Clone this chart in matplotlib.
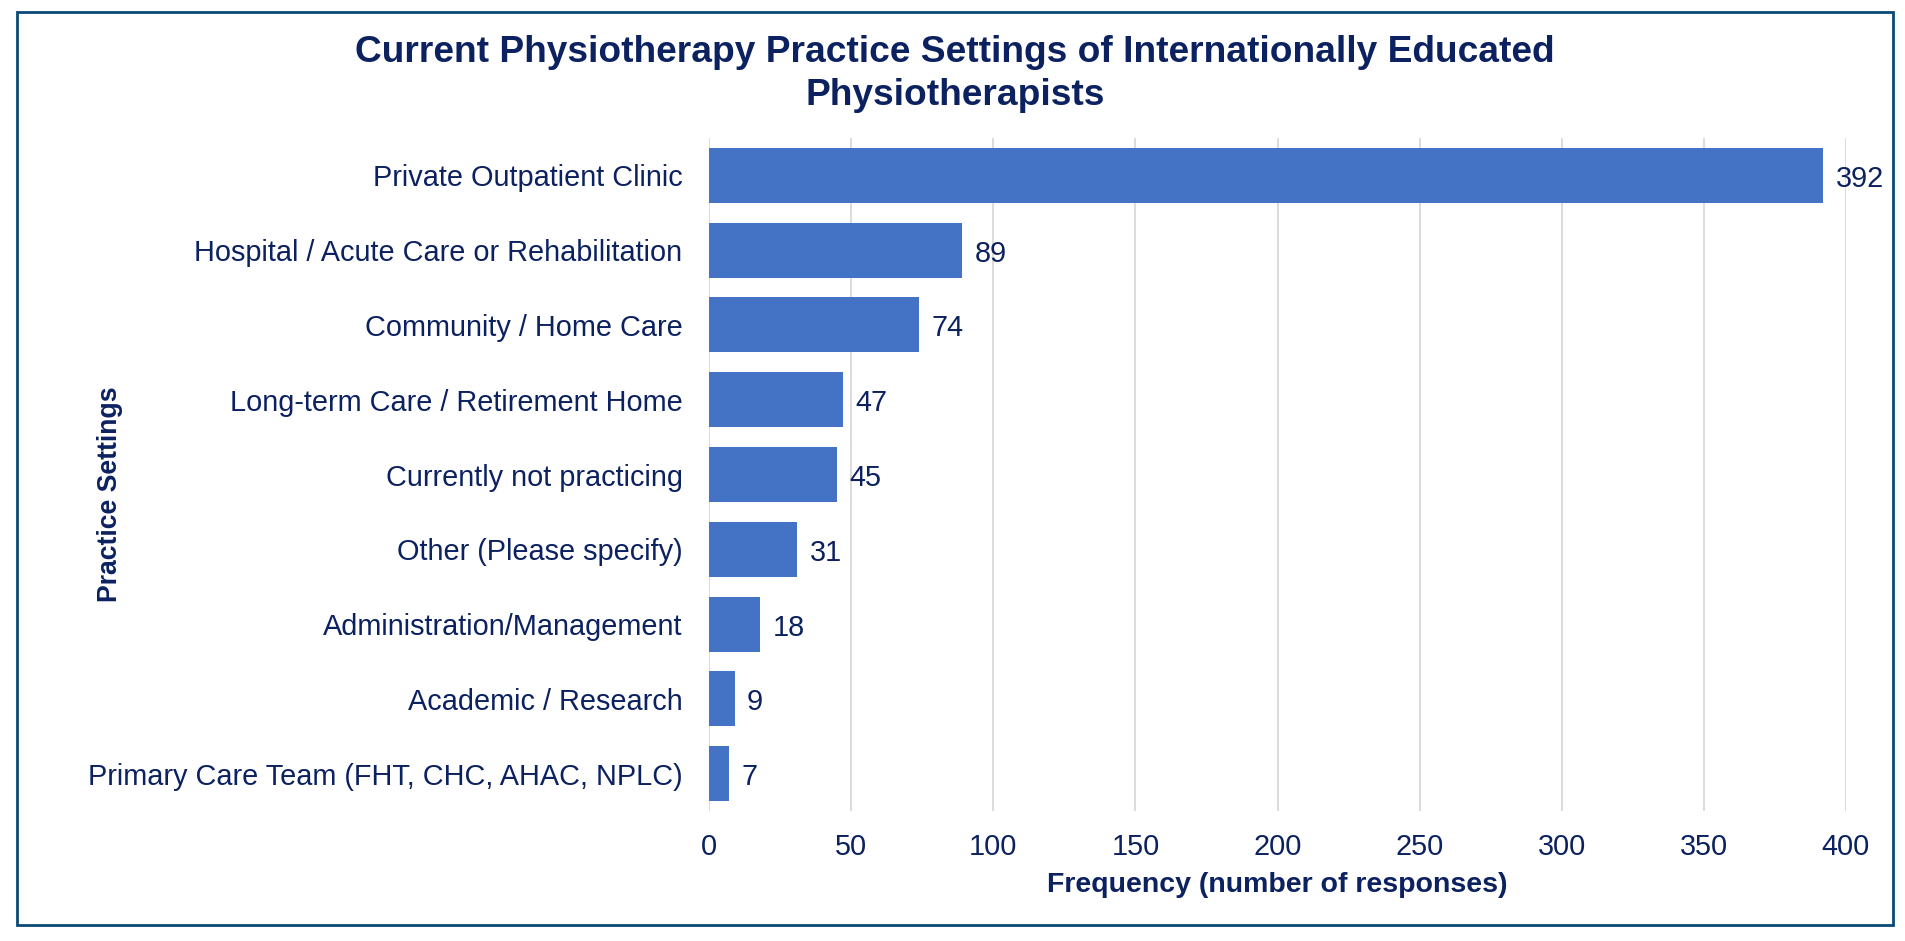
import matplotlib.pyplot as plt
from matplotlib.patches import Rectangle

# --- data ---
settings = [
    "Private Outpatient Clinic",
    "Hospital / Acute Care or Rehabilitation",
    "Community / Home Care",
    "Long-term Care / Retirement Home",
    "Currently not practicing",
    "Other (Please specify)",
    "Administration/Management",
    "Academic / Research",
    "Primary Care Team (FHT, CHC, AHAC, NPLC)",
]
responses = [392, 89, 74, 47, 45, 31, 18, 9, 7]
x_ticks = [0, 50, 100, 150, 200, 250, 300, 350, 400]

navy = "#0C2160"
bar_col = "#4472C4"
grid_col = "#D9D9D9"

plt.rcParams["font.family"] = ["Liberation Sans", "DejaVu Sans"]

fig = plt.figure(figsize=(19.06, 9.41), dpi=100)
ax = fig.add_axes([709 / 1906, 1 - 811 / 941, (1846 - 709) / 1906, (811 - 138) / 941])

ypos = list(range(len(settings)))
bars = ax.barh(ypos, responses, height=0.735, color=bar_col, zorder=3)

ax.set_xlim(0, 400)
ax.set_ylim(len(settings) - 0.5, -0.5)
ax.set_xticks(x_ticks)
ax.set_yticks(ypos)
ax.set_yticklabels(settings)
ax.tick_params(axis="y", length=0, pad=19, labelsize=20.8, labelcolor=navy)
ax.tick_params(axis="x", length=0, pad=16, labelsize=20.8, labelcolor=navy)
ax.grid(axis="x", color=grid_col, linewidth=1.3, zorder=0)
for s in ax.spines.values():
    s.set_visible(False)

for b, v in zip(bars, responses):
    ax.annotate(str(v), (b.get_width(), b.get_y() + b.get_height() / 2),
                xytext=(9, -2.5), textcoords="offset points",
                ha="left", va="center", fontsize=20.8, color=navy)

# titles
fig.text(955 / 1906, 1 - 74 / 941,
         "Current Physiotherapy Practice Settings of Internationally Educated\nPhysiotherapists",
         ha="center", va="center", fontsize=26.7, fontweight="bold", color=navy,
         linespacing=1.3)
fig.text(1277 / 1906, 1 - 885 / 941, "Frequency (number of responses)",
         ha="center", va="center", fontsize=20.5, fontweight="bold", color=navy)
fig.text(110 / 1906, 1 - 494 / 941, "Practice Settings", rotation=90,
         ha="center", va="center", fontsize=19.2, fontweight="bold", color=navy)

# outer border
fig.patches.append(Rectangle((17.5 / 1906, 1 - 925 / 941),
                             (1893 - 17.5) / 1906, (925 - 12) / 941,
                             transform=fig.transFigure, fill=False,
                             edgecolor="#0B4A75", linewidth=2))

fig.savefig("out.png", dpi=100)
